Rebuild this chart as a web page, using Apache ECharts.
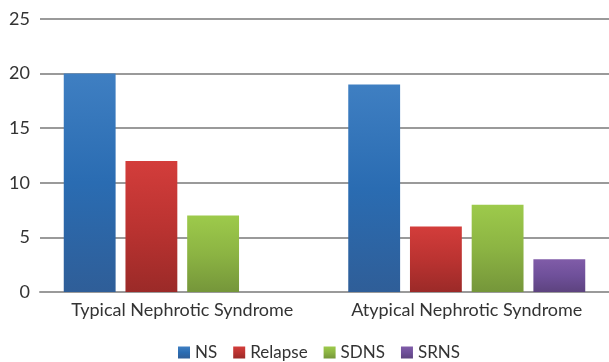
<!DOCTYPE html>
<html>
<head>
<meta charset="utf-8">
<script src="https://cdn.jsdelivr.net/npm/echarts@6/dist/echarts.min.js"></script>
<style>
  html, body { margin: 0; padding: 0; background: #fff; }
  #chart { width: 609px; height: 362px; }
</style>
</head>
<body>
<div id="chart"></div>
<script>
const categories = ['Typical Nephrotic Syndrome', 'Atypical Nephrotic Syndrome'];
const seriesNames = ['NS', 'Relapse', 'SDNS', 'SRNS'];
const nsValues = [20, 19];
const relapseValues = [12, 6];
const sdnsValues = [7, 8];
const srnsValues = [0, 3];
const yTicks = [0, 5, 10, 15, 20, 25];

// vertical gradient stops per series: top, middle, bottom
const palettes = [
  ['#3f7fc2', '#2a6cb2', '#2f5e98'],
  ['#d33d3b', '#bb3331', '#9b2a28'],
  ['#9dca4b', '#8cb443', '#75963a'],
  ['#805ca8', '#6f509a', '#5d437f']
];

function grad(p) {
  return new echarts.graphic.LinearGradient(0, 0, 0, 1, [
    { offset: 0, color: p[0] },
    { offset: 0.5, color: p[1] },
    { offset: 1, color: p[2] }
  ]);
}

const allValues = [nsValues, relapseValues, sdnsValues, srnsValues];
const font = "Lato, 'Open Sans', sans-serif";

const chart = echarts.init(document.getElementById('chart'));
chart.setOption({
  animation: false,
  grid: { left: 40, right: 0, top: 19, bottom: 70, containLabel: false },
  legend: {
    top: 344,
    left: 178,
    padding: 0,
    itemWidth: 12,
    itemHeight: 12,
    itemGap: 16,
    icon: 'rect',
    textStyle: { fontFamily: font, fontSize: 17, color: '#333' },
    data: seriesNames
  },
  xAxis: {
    type: 'category',
    data: categories,
    axisLine: { show: true, lineStyle: { color: '#9a9a9a', width: 2 } },
    axisTick: { show: false },
    axisLabel: { interval: 0, fontFamily: font, fontSize: 18, color: '#333', margin: 9 }
  },
  yAxis: {
    type: 'value',
    min: yTicks[0],
    max: yTicks[yTicks.length - 1],
    interval: 5,
    axisLine: { show: false },
    axisTick: { show: false },
    splitLine: { lineStyle: { color: '#9a9a9a', width: 2 } },
    axisLabel: { fontFamily: font, fontSize: 18, color: '#333', margin: 10 }
  },
  series: seriesNames.map((name, i) => ({
    name: name,
    type: 'bar',
    data: allValues[i],
    barGap: '19%',
    barCategoryGap: '16.7%',
    itemStyle: { color: grad(palettes[i]) }
  }))
});
</script>
</body>
</html>
